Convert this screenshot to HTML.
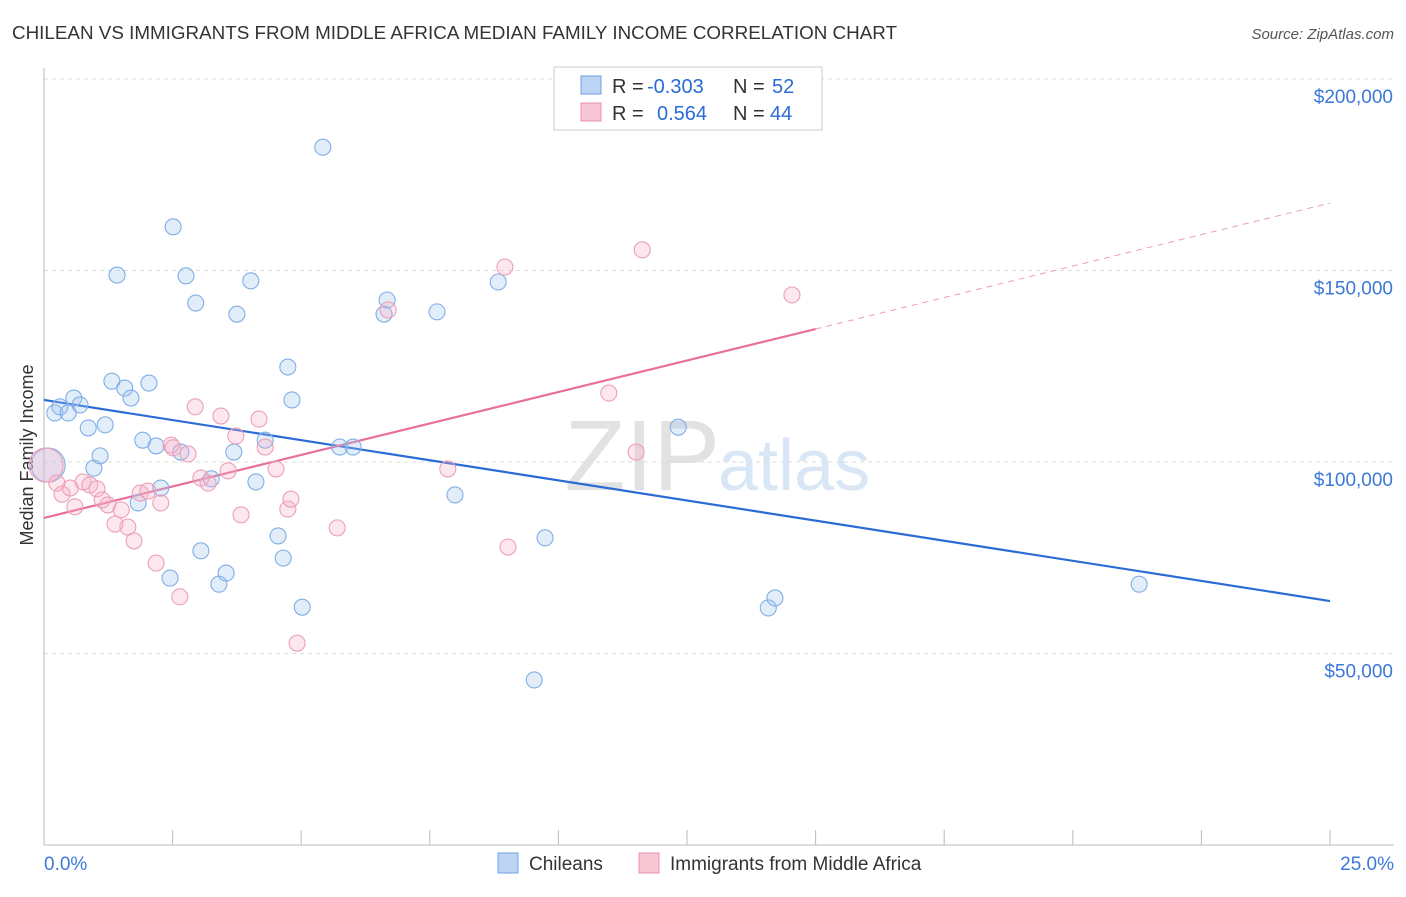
<!DOCTYPE html>
<html><head><meta charset="utf-8"><style>
body{margin:0;background:#fff;font-family:"Liberation Sans",sans-serif;}
svg text{font-family:"Liberation Sans",sans-serif;}
</style></head><body>
<svg id="chart" width="1406" height="892">
<text x="12" y="39" font-size="18" fill="#333" textLength="885" lengthAdjust="spacingAndGlyphs">CHILEAN VS IMMIGRANTS FROM MIDDLE AFRICA MEDIAN FAMILY INCOME CORRELATION CHART</text>
<text x="1394" y="39" font-size="15" fill="#555" font-style="italic" text-anchor="end">Source: ZipAtlas.com</text>
<text x="720" y="490" font-size="100" fill="#e2e2e2" text-anchor="end" font-family="Liberation Serif">ZIP</text>
<text x="718" y="490" font-size="72" fill="#d9e6f5">atlas</text>
<text transform="translate(33,455) rotate(-90)" font-size="18" fill="#333" text-anchor="middle">Median Family Income</text>
<g id="grid"></g><g id="axes"></g><g id="trends"></g><g id="pts"></g>
<g>
<rect x="554" y="67" width="268" height="63" fill="#fff" stroke="#ccc"/>
<rect x="581" y="76" width="20" height="18" fill="#bcd5f5" stroke="#6fa0e0"/>
<rect x="581" y="103" width="20" height="18" fill="#f8c6d5" stroke="#e890aa"/>
<text x="612" y="93" font-size="20" fill="#333">R = <tspan fill="#2a6bd6" x="647">-0.303</tspan><tspan x="733">N = </tspan><tspan fill="#2a6bd6" x="772">52</tspan></text>
<text x="612" y="120" font-size="20" fill="#333">R = <tspan fill="#2a6bd6" x="657">0.564</tspan><tspan x="733">N = </tspan><tspan fill="#2a6bd6" x="770">44</tspan></text>
</g>
<g>
<rect x="498" y="853" width="20" height="20" fill="#bcd5f5" stroke="#6fa0e0"/>
<text x="529" y="870" font-size="19" fill="#333">Chileans</text>
<rect x="639" y="853" width="20" height="20" fill="#f8c6d5" stroke="#e890aa"/>
<text x="670" y="870" font-size="19" fill="#333">Immigrants from Middle Africa</text>
</g>
</svg>
<script>
const yTicks=[50,100,150,200];
const yTickLabels=["$50,000","$100,000","$150,000","$200,000"];
const xTickLabels=["0.0%","25.0%"];
const chileX=[0.21,0.31,0.47,0.58,0.70,0.86,0.97,1.09,1.19,1.32,1.42,1.57,1.69,1.83,1.92,2.04,2.18,2.27,2.45,2.51,2.66,2.76,2.95,3.05,3.25,3.40,3.54,3.69,3.75,4.02,4.12,4.30,4.55,4.65,4.74,4.82,5.02,5.42,5.75,6.01,6.61,6.67,7.64,7.99,8.83,9.53,9.74,12.33,14.08,14.21,21.29,0.08];
const chileY=[112.8,114.4,112.8,116.7,114.9,108.9,98.4,101.6,109.7,121.1,148.8,119.3,116.7,89.3,105.7,120.6,104.2,93.2,69.7,161.4,102.6,148.6,141.5,76.8,95.6,68.1,71.0,102.6,138.6,147.3,94.8,105.7,80.7,74.9,124.8,116.2,62.1,182.2,103.9,103.9,138.6,142.3,139.2,91.4,147.0,43.1,80.2,109.1,61.9,64.5,68.1,99.2];
const afrX=[0.04,0.25,0.35,0.51,0.60,0.76,0.89,1.03,1.13,1.24,1.38,1.50,1.63,1.75,1.87,2.02,2.18,2.27,2.47,2.51,2.64,2.80,2.94,3.05,3.19,3.44,3.58,3.73,3.83,4.18,4.30,4.51,4.74,4.80,4.92,5.70,6.69,7.85,8.96,9.02,10.98,11.51,11.63,14.54];
const afrY=[99.2,94.5,91.6,93.2,88.3,94.8,94.0,93.0,90.1,88.8,83.8,87.5,83.0,79.4,91.9,92.4,73.6,89.3,104.4,103.7,64.8,102.1,114.4,95.8,94.5,112.0,97.7,106.8,86.2,111.2,103.9,98.2,87.7,90.3,52.7,82.8,139.7,98.2,150.9,77.8,118.0,102.6,155.4,143.6];
const chileTrend=[116.2,63.7];
const afrTrend=[85.4,167.6];
const afrSolidEnd=15;
const NS="http://www.w3.org/2000/svg";
const X=p=>44+p*1286/25;
const Y=v=>462-(v-100)*191.5/50;
function mk(tag,attrs,parent){const e=document.createElementNS(NS,tag);for(const k in attrs)e.setAttribute(k,attrs[k]);document.getElementById(parent).appendChild(e);return e;}
yTicks.forEach((t,i)=>{
 const l=mk('line',{x1:44,x2:1394,y1:Y(t),y2:Y(t),stroke:'#ddd','stroke-dasharray':'4,4'},'grid');
 
 
 const tx=mk('text',{x:1393,y:Y(t)+24,'font-size':19,fill:'#3b78d8','text-anchor':'end'},'axes');
 tx.textContent=yTickLabels[i];
 
 
});
const ax=mk('line',{x1:44,x2:1394,y1:845,y2:845,stroke:'#bbb'},'axes');


const ay=mk('line',{x1:44,x2:44,y1:68,y2:845,stroke:'#bbb'},'axes');


for(let i=0;i<=10;i++){
 const t=mk('line',{x1:X(i*2.5),x2:X(i*2.5),y1:830,y2:845,stroke:'#bbb'},'axes');
 
 
}
[[0,'start',44],[25,'end',1394]].forEach((d,i)=>{
 const t=mk('text',{x:d[2],y:870,'font-size':19,fill:'#3b78d8','text-anchor':d[1]},'axes');
 t.textContent=xTickLabels[i];
 
 
});
const lin=(tr,p)=>tr[0]+(tr[1]-tr[0])*p/25;
const bl=mk('line',{x1:X(0),y1:Y(chileTrend[0]),x2:X(25),y2:Y(chileTrend[1]),stroke:'#2a6bd6','stroke-width':2.2},'trends');


const pl=mk('line',{x1:X(0),y1:Y(afrTrend[0]),x2:X(afrSolidEnd),y2:Y(lin(afrTrend,afrSolidEnd)),stroke:'#e8709a','stroke-width':2.2},'trends');


const pd=mk('line',{x1:X(afrSolidEnd),y1:Y(lin(afrTrend,afrSolidEnd)),x2:X(25),y2:Y(afrTrend[1]),stroke:'#e8a0b8','stroke-width':1,'stroke-dasharray':'6,5'},'trends');


chileX.forEach((x,i)=>{
 const big=i===chileX.length-1;
 const c=mk('circle',{cx:X(x),cy:Y(chileY[i]),r:big?17:8,fill:'rgba(160,196,240,0.3)',stroke:'#80aee6','stroke-width':1.1},'pts');
 
 
});
afrX.forEach((x,i)=>{
 const big=i===0;
 const c=mk('circle',{cx:X(x),cy:Y(afrY[i]),r:big?17:8,fill:'rgba(245,175,198,0.3)',stroke:'#eba0b8','stroke-width':1.1},'pts');
 
 
});
</script>
</body></html>
